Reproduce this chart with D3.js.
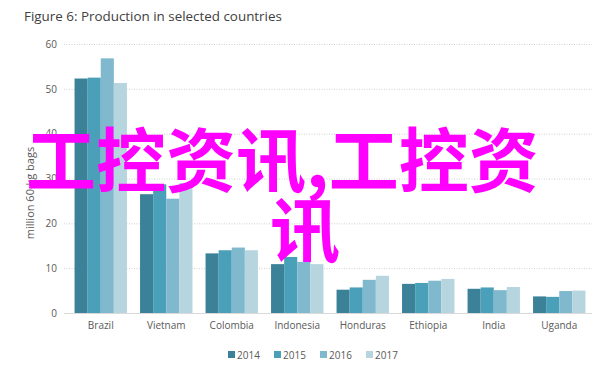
<!DOCTYPE html>
<html><head><meta charset="utf-8">
<script src="https://cdn.jsdelivr.net/npm/d3@7"></script>
<style>
html,body{margin:0;padding:0;background:#fff;}
svg{display:block;}
</style></head>
<body>
<script>
const categories = ["Brazil","Vietnam","Colombia","Indonesia","Honduras","Ethiopia","India","Uganda"];
const years = ["2014","2015","2016","2017"];
const v2014 = [52.3, 26.5, 13.3, 10.9, 5.2, 6.5, 5.4, 3.7];
const v2015 = [52.5, 28.7, 14.0, 12.5, 5.7, 6.7, 5.7, 3.6];
const v2016 = [56.8, 25.5, 14.6, 11.4, 7.4, 7.2, 5.1, 4.9];
const v2017 = [51.3, 29.0, 14.0, 10.9, 8.3, 7.6, 5.8, 5.0];
const yTicks = [0,10,20,30,40,50,60];
const colors = ["#3b8299","#4aa0b8","#80b9cd","#b7d5df"];
const title = "Figure 6: Production in selected countries";
const yTitle = "million 60-kg bags";
const watermark1 = "工控资讯,工控资";
const watermark2 = "讯";

const series = [v2014, v2015, v2016, v2017];
const W = 612, H = 366;
const svg = d3.select("body").append("svg").attr("width", W).attr("height", H);
const font = "'Open Sans', 'Liberation Sans', sans-serif";

const x0 = d3.scaleBand().domain(categories).range([68, 592]).paddingInner(0.2).paddingOuter(0.1);
const x1 = d3.scaleBand().domain(years).range([0, x0.bandwidth()]);
const y = d3.scaleLinear().domain([0, 60]).range([313, 44]);

// title
svg.append("text").attr("x", 24).attr("y", 21).text(title)
  .attr("font-family", font).attr("font-size", 13.4).attr("fill", "#404040");

// gridlines
const grid = svg.append("g").attr("transform", "translate(64,0)")
  .call(d3.axisLeft(y).tickValues(yTicks.filter(d => d > 0)).tickSize(-(592-64)).tickFormat(""));
grid.select(".domain").remove();
grid.selectAll("line").attr("stroke", "#d0d0d0").attr("stroke-dasharray", "1,1.5");

// y tick labels
const yAx = svg.append("g").attr("transform", "translate(60,0)")
  .call(d3.axisLeft(y).tickValues(yTicks).tickSize(0).tickPadding(3));
yAx.select(".domain").remove();
yAx.selectAll("text").attr("font-family", font).attr("font-size", 10).attr("fill", "#595959");

// bars
const groups = svg.append("g").selectAll("g").data(categories).join("g")
  .attr("transform", d => `translate(${x0(d)},0)`);
groups.selectAll("rect").data((d, i) => years.map((yr, j) => ({yr, v: series[j][i], j})))
  .join("rect")
  .attr("x", d => x1(d.yr))
  .attr("y", d => y(d.v))
  .attr("width", x1.bandwidth())
  .attr("height", d => y(0) - y(d.v))
  .attr("fill", d => colors[d.j]);

// x axis
const xAx = svg.append("g").attr("transform", `translate(0,${y(0)})`)
  .call(d3.axisBottom(x0).tickSize(0).tickPadding(9));
xAx.select(".domain").attr("stroke", "#d9d9d9").attr("d", "M64,0.5H592");
xAx.selectAll("text").attr("font-family", font).attr("font-size", 10).attr("fill", "#595959");

// y title
svg.append("text").attr("transform", "translate(34,193) rotate(-90)")
  .attr("text-anchor", "middle").text(yTitle)
  .attr("font-family", font).attr("font-size", 11).attr("fill", "#595959");

// legend
const lx = d3.scaleBand().domain(years).range([228, 412]);
const leg = svg.append("g").selectAll("g").data(years).join("g")
  .attr("transform", d => `translate(${lx(d)},355)`);
leg.append("rect").attr("x", 0).attr("y", -4).attr("width", 7).attr("height", 7)
  .attr("fill", (d, i) => colors[i]);
leg.append("text").attr("x", 9).attr("y", 3.5).text(d => d)
  .attr("font-family", font).attr("font-size", 10).attr("fill", "#595959");

// watermark
const wm = svg.append("g").attr("font-family", "'Noto Sans CJK SC', sans-serif")
  .attr("font-weight", "bold").attr("font-size", 70).attr("fill", "#ff00ff");
wm.append("text").attr("x", 26).attr("y", 187).text(watermark1);
wm.append("text").attr("x", 270).attr("y", 257).text(watermark2);
</script>
</body></html>
